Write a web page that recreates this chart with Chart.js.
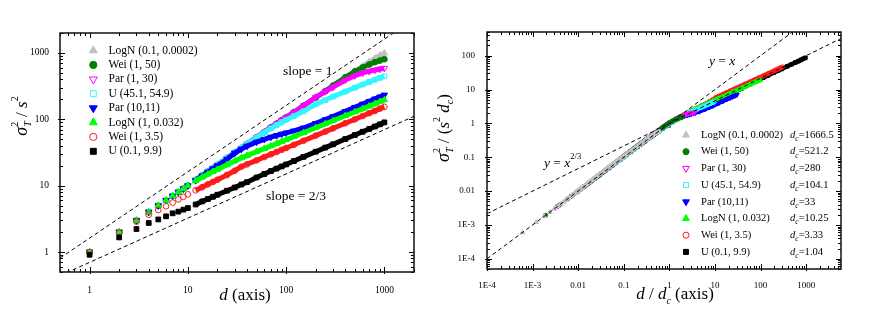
<!DOCTYPE html>
<html>
<head>
<meta charset="utf-8">
<script src="https://cdn.jsdelivr.net/npm/chart.js@4.4.0/dist/chart.umd.min.js"></script>
<style>
  html, body { margin: 0; padding: 0; background: #fff; }
  #wrap { display: flex; width: 872px; height: 323px; }
  canvas { display: block; }
</style>
</head>
<body>
<div id="wrap">
  <canvas id="leftChart" width="430" height="323"></canvas>
  <canvas id="rightChart" width="442" height="323"></canvas>
</div>
<script>
// === DATA ===
const D = [1, 2, 3, 4, 5, 6, 7, 8, 9, 10, 12, 14, 16, 18, 20, 25, 30, 35, 40, 50, 60, 70, 80, 90, 100,
           120, 150, 200, 250, 300, 400, 500, 600, 700, 800, 900, 1000];

const NAMES = ["LogN (0.1, 0.0002)", "Wei (1, 50)", "Par (1, 30)", "U (45.1, 54.9)",
               "Par (10,11)", "LogN (1, 0.032)", "Wei (1, 3.5)", "U (0.1, 9.9)"];
const D_C = [1666.5, 521.2, 280, 104.1, 33, 10.25, 3.33, 1.04];
const D_C_TEXT = ["1666.5", "521.2", "280", "104.1", "33", "10.25", "3.33", "1.04"];

const LOGN_01 = [1, 2, 3, 4, 5, 6, 7, 8, 9, 10, 12.2, 14.3, 16.4, 18.5, 20.6, 26, 31.5, 37, 42.5,
                 53.5, 64.5, 75.5, 86, 97, 107, 128, 160, 213, 265, 318, 424, 528, 630, 730, 830, 920, 990];
const WEI_50 = [1, 2, 3, 4, 5, 6, 7, 8, 9, 10, 12.2, 14.3, 16.4, 18.5, 20.6, 26, 31.5, 37, 42.5,
                53.5, 64.5, 75.5, 86, 97, 107, 128, 160, 213, 265, 322, 430, 528, 605, 670, 728, 770, 806];
const PAR_1_30 = [1, 2, 3, 4, 5, 6, 7, 8, 9, 10, 12.2, 14.3, 16.4, 18.5, 20.6, 26, 31.5, 37, 42.5,
                  53.5, 64.5, 75.5, 86, 97, 107, 128, 160, 215, 262, 305, 390, 455, 500, 530, 553, 572, 588];
const U_45 = [1, 2, 3, 4, 5, 6, 7, 8, 9, 10, 12.2, 14.3, 16.4, 18.5, 20.6, 26, 31.5, 37, 42.5,
              53, 63.5, 73, 82, 90.5, 98, 112, 132, 168, 195, 220, 262, 300, 335, 366, 395, 421, 445];
const PAR_10_11 = [1, 2, 3, 4, 5, 6, 7, 8, 9, 10, 12, 14, 16, 18, 20, 25, 31, 35.5, 39.5,
                   45.5, 50, 54, 57, 60, 62.5, 67, 74, 87, 99, 110, 132, 152, 170, 187, 203, 218, 233];
const LOGN_1 = [1, 2, 3, 4, 5, 6, 7, 8, 9, 10, 11.8, 13.4, 14.9, 16.3, 17.6, 20.6, 23.5, 26.2, 28.4,
                32.5, 36.2, 39.7, 43, 46.2, 49.2, 54.9, 62.7, 74.6, 85.3, 95.1, 113, 129, 144, 158, 171, 184, 196];
const WEI_35 = [1, 1.95, 2.87, 3.66, 4.3, 4.9, 5.56, 6.2, 6.8, 7.4, 8.5, 9.5, 10.5, 11.4, 12.3, 14.5, 16.8, 19.3, 21,
                24.1, 27, 29.7, 32.2, 34.7, 37, 41.4, 47.6, 56.9, 65.3, 73.1, 87.4, 100, 112, 124, 134, 145, 154];
const U_01 = [0.91, 1.66, 2.22, 2.74, 3.1, 3.45, 3.83, 4.06, 4.35, 4.6, 5.2, 5.8, 6.3, 6.8, 7.3, 8.4, 9.4, 10.4, 11.3,
              13.3, 15, 16.6, 18.1, 19.5, 20.9, 23.5, 27.2, 32.5, 37.5, 42, 50.5, 58, 65, 71.5, 78, 84, 90];

const SERIES = [LOGN_01, WEI_50, PAR_1_30, U_45, PAR_10_11, LOGN_1, WEI_35, U_01];

const LEFT_TICKS = [1, 10, 100, 1000];
const LEFT_TICK_LABELS = ["1", "10", "100", "1000"];
const RIGHT_X_TICKS = [1e-4, 1e-3, 0.01, 0.1, 1, 10, 100, 1000];
const RIGHT_X_LABELS = ["1E-4", "1E-3", "0.01", "0.1", "1", "10", "100", "1000"];
const RIGHT_Y_TICKS = [1e-4, 1e-3, 0.01, 0.1, 1, 10, 100];
const RIGHT_Y_LABELS = ["1E-4", "1E-3", "0.01", "0.1", "1", "10", "100"];

// dashed guide lines, end points
const LEFT_SLOPE_1 = [[0.5, 0.81], [2000, 3240]];
const LEFT_SLOPE_23 = [[0.5, 0.44], [2000, 111]];
const RIGHT_Y_X = [[1e-4, 1e-4], [6000, 6000]];
const RIGHT_Y_X23 = [[1e-4, 0.00215], [6000, 330]];

// === STYLE ===
const SERIF = '"Liberation Serif", "DejaVu Serif", serif';
const STYLES = [
    { color: "#c0c0c0", shape: "triangle", rot: 0,   open: false },
    { color: "#007f00", shape: "circle",   rot: 0,   open: false },
    { color: "#ff00ff", shape: "triangle", rot: 180, open: true  },
    { color: "#33f5ff", shape: "rect",     rot: 0,   open: true  },
    { color: "#0000ff", shape: "triangle", rot: 180, open: false },
    { color: "#00ff00", shape: "triangle", rot: 0,   open: false },
    { color: "#ff1a1a", shape: "circle",   rot: 0,   open: true  },
    { color: "#000000", shape: "rect",     rot: 0,   open: false }
];
const SIZE_K = { triangle: 1.15, circle: 0.9, rect: 1.05 };

// lastOnTop: left panel draws later series over earlier ones, right panel the reverse
function seriesSets(scaled, r, band, lastOnTop) {
    return SERIES.map((ys, i) => {
        const st = STYLES[i];
        const dc = scaled ? D_C[i] : 1;
        return {
            data: D.map((d, k) => ({ x: d / dc, y: ys[k] / dc })),
            showLine: true,
            borderWidth: band,
            borderColor: st.color,
            segment: { borderColor: c => c.p0DataIndex < 10 ? "rgba(0,0,0,0)" : st.color },
            pointStyle: st.shape,
            rotation: st.rot,
            pointRadius: r * SIZE_K[st.shape],
            pointBorderWidth: 1,
            pointBorderColor: st.color,
            pointBackgroundColor: st.open ? "rgba(255,255,255,0)" : st.color,
            order: lastOnTop ? 8 - i : i + 1
        };
    });
}

function guide(pts) {
    return {
        data: pts.map(p => ({ x: p[0], y: p[1] })),
        showLine: true,
        borderColor: "#000",
        borderWidth: 1,
        borderDash: [4, 3],
        pointRadius: 0,
        order: 0
    };
}

function logAxis(min, max, ticks, labels, size, pad, fit, isX) {
    return {
        type: "logarithmic",
        min: min,
        max: max,
        grid: { display: false },
        border: { display: false },
        afterBuildTicks: s => { s.ticks = ticks.map(v => ({ value: v })); },
        afterFit: s => { if (isX) s.height = fit; else s.width = fit; },
        ticks: {
            autoSkip: false,
            maxRotation: 0,
            padding: pad,
            color: "#000",
            font: { family: SERIF, size: size },
            callback: (v, i) => labels[i]
        }
    };
}

// --- drawing helpers ---
function font(p) {
    return (p.i ? "italic " : "") + p.s + "px " + SERIF;
}

function rich(ctx, parts, x, y, align) {
    let w = 0;
    const laid = parts.map(p => {
        ctx.font = font(p);
        const pw = ctx.measureText(p.t).width;
        const item = { p: p, at: w };
        if (p.adv !== false) w += pw;
        return item;
    });
    const x0 = align === "center" ? x - w / 2 : x;
    laid.forEach(it => {
        ctx.font = font(it.p);
        ctx.fillText(it.p.t, x0 + it.at, y + (it.p.dy || 0));
    });
}

function marker(ctx, st, x, y, r) {
    ctx.beginPath();
    if (st.shape === "circle") {
        ctx.arc(x, y, r * 0.9, 0, Math.PI * 2);
    } else if (st.shape === "rect") {
        const h = r * 1.05 * Math.SQRT1_2;
        ctx.rect(x - h, y - h, 2 * h, 2 * h);
    } else {
        const R = r * 1.15, f = st.rot ? -1 : 1;
        ctx.moveTo(x, y - f * R);
        ctx.lineTo(x - R * 0.866, y + f * R / 2);
        ctx.lineTo(x + R * 0.866, y + f * R / 2);
        ctx.closePath();
    }
    ctx.lineWidth = 1;
    ctx.strokeStyle = st.color;
    if (!st.open) { ctx.fillStyle = st.color; ctx.fill(); }
    ctx.stroke();
}

function decadeTicks(min, max) {
    const out = [];
    for (let e = Math.floor(Math.log10(min)); e <= Math.ceil(Math.log10(max)); e++) {
        for (let m = 1; m < 10; m++) {
            const v = m * Math.pow(10, e);
            if (v >= min * 0.999 && v <= max * 1.001) out.push([v, m === 1]);
        }
    }
    return out;
}

// frame with inward ticks on all four sides, plus texts
const decor = {
    id: "decor",
    afterDraw(chart, args, opts) {
        const { ctx, chartArea: a, scales } = chart;
        const x = scales.x, y = scales.y;
        ctx.save();
        ctx.strokeStyle = "#000";
        ctx.lineWidth = 1;
        ctx.beginPath();
        decadeTicks(x.min, x.max).forEach(([v, major]) => {
            const px = Math.round(x.getPixelForValue(v)) + 0.5;
            const len = major ? 5 : 3;
            ctx.moveTo(px, a.bottom + (major ? 2 : 0)); ctx.lineTo(px, a.bottom - len);
            ctx.moveTo(px, a.top); ctx.lineTo(px, a.top + len);
        });
        decadeTicks(y.min, y.max).forEach(([v, major]) => {
            const py = Math.round(y.getPixelForValue(v)) + 0.5;
            const len = major ? 5 : 3;
            ctx.moveTo(a.left - (major ? 2 : 0), py); ctx.lineTo(a.left + len, py);
            ctx.moveTo(a.right, py); ctx.lineTo(a.right - len, py);
        });
        ctx.stroke();
        ctx.lineWidth = 1.5;
        ctx.strokeStyle = "#111";
        ctx.strokeRect(a.left, a.top, a.right - a.left, a.bottom - a.top);

        ctx.fillStyle = "#000";
        ctx.textBaseline = "alphabetic";
        // axis titles
        rich(ctx, opts.xTitle, opts.xTitleAt[0], opts.xTitleAt[1], "center");
        ctx.save();
        ctx.translate(opts.yTitleAt[0], opts.yTitleAt[1]);
        ctx.rotate(-Math.PI / 2);
        rich(ctx, opts.yTitle, 0, 0, "center");
        ctx.restore();
        // annotations
        opts.notes.forEach(n => rich(ctx, n.parts, n.x, n.y, "left"));
        // legend
        const L = opts.legend;
        NAMES.forEach((name, i) => {
            const ry = L.y + i * L.dy;
            marker(ctx, STYLES[i], L.mx, ry, L.r);
            ctx.fillStyle = "#000";
            ctx.textBaseline = "middle";
            rich(ctx, [{ t: name, s: L.fs }], L.tx, ry, "left");
            if (L.dcx) {
                rich(ctx, [{ t: "d", s: L.fs, i: true },
                           { t: "c", s: 7.5, i: true, dy: 4 },
                           { t: "=" + D_C_TEXT[i], s: L.fs }], L.dcx, ry, "left");
            }
            ctx.textBaseline = "alphabetic";
        });
        ctx.restore();
    }
};

const sigma = [
    { t: "\u03c3", s: 18, i: true },
    { t: "2", s: 10, dy: -9, adv: false },
    { t: "T", s: 10, i: true, dy: 4 }
];

// === LEFT PANEL ===
new Chart(document.getElementById("leftChart"), {
    type: "scatter",
    data: { datasets: seriesSets(false, 3.2, 5, true).concat([guide(LEFT_SLOPE_1), guide(LEFT_SLOPE_23)]) },
    options: {
        responsive: false,
        animation: false,
        events: [],
        layout: { padding: { left: 0, top: 33, right: 16, bottom: 0 } },
        plugins: {
            legend: { display: false },
            tooltip: { enabled: false },
            decor: {
                xTitle: [{ t: "d", s: 17, i: true }, { t: " (axis)", s: 17 }],
                xTitleAt: [245, 300],
                yTitle: sigma.concat([{ t: " / ", s: 17 }, { t: "s", s: 17, i: true },
                                      { t: "2", s: 10, dy: -9 }]),
                yTitleAt: [27, 116],
                notes: [
                    { parts: [{ t: "slope = 1", s: 13.5 }], x: 283, y: 75 },
                    { parts: [{ t: "slope = 2/3", s: 13.5 }], x: 266, y: 200 }
                ],
                legend: { mx: 93.3, tx: 108.5, y: 50.5, dy: 14.4, r: 4, fs: 11.5 }
            }
        },
        scales: {
            x: logAxis(0.5, 2000, LEFT_TICKS, LEFT_TICK_LABELS, 9.5, 5, 51, true),
            y: logAxis(0.5, 2000, LEFT_TICKS, LEFT_TICK_LABELS, 9.5, 3, 60, false)
        }
    },
    plugins: [decor]
});

// === RIGHT PANEL (scaled by d_c) ===
new Chart(document.getElementById("rightChart"), {
    type: "scatter",
    data: { datasets: seriesSets(true, 2.4, 4.5, false).concat([guide(RIGHT_Y_X), guide(RIGHT_Y_X23)]) },
    options: {
        responsive: false,
        animation: false,
        events: [],
        layout: { padding: { left: 0, top: 32, right: 31, bottom: 0 } },
        plugins: {
            legend: { display: false },
            tooltip: { enabled: false },
            decor: {
                xTitle: [{ t: "d", s: 17, i: true }, { t: " / ", s: 17 }, { t: "d", s: 17, i: true },
                         { t: "c", s: 10, i: true, dy: 5 }, { t: " (axis)", s: 17 }],
                xTitleAt: [245, 299],
                yTitle: sigma.concat([{ t: " / (", s: 17 }, { t: "s", s: 17, i: true },
                                      { t: "2", s: 10, dy: -9 }, { t: " ", s: 17 },
                                      { t: "d", s: 17, i: true }, { t: "c", s: 10, i: true, dy: 4 },
                                      { t: ")", s: 17 }]),
                yTitleAt: [19, 128],
                notes: [
                    { parts: [{ t: "y", s: 13.5, i: true }, { t: " = ", s: 13.5 }, { t: "x", s: 13.5, i: true }],
                      x: 279, y: 65 },
                    { parts: [{ t: "y", s: 13.5, i: true }, { t: " = ", s: 13.5 }, { t: "x", s: 13.5, i: true },
                              { t: "2/3", s: 8.5, dy: -8 }], x: 114, y: 167 }
                ],
                legend: { mx: 256, tx: 271, dcx: 360, y: 135, dy: 16.7, r: 3.4, fs: 10.6 }
            }
        },
        scales: {
            x: logAxis(1e-4, 5800, RIGHT_X_TICKS, RIGHT_X_LABELS, 9, 3, 54, true),
            y: logAxis(5e-5, 500, RIGHT_Y_TICKS, RIGHT_Y_LABELS, 9, 4, 57, false)
        }
    },
    plugins: [decor]
});
</script>
</body>
</html>
